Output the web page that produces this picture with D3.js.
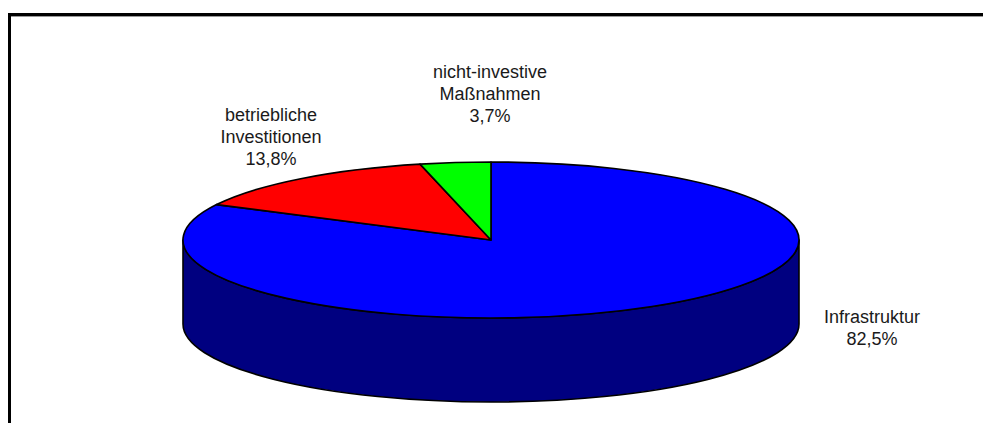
<!DOCTYPE html>
<html>
<head>
<meta charset="utf-8">
<script src="https://cdn.jsdelivr.net/npm/d3@7"></script>
<style>
  html, body { margin: 0; padding: 0; background: #fff; overflow: hidden; }
  svg { display: block; }
  text { font-family: "Liberation Sans", Arial, sans-serif; font-size: 18px; fill: #1a1a1a; }
</style>
</head>
<body>
<svg id="chart" width="983" height="423"></svg>
<script>
// data
const categories = ["Infrastruktur", "betriebliche Investitionen", "nicht-investive Maßnahmen"];
const labelLines = [["Infrastruktur"], ["betriebliche", "Investitionen"], ["nicht-investive", "Maßnahmen"]];
const shares = [82.5, 13.8, 3.7];

// look
const topColors = ["#0000ff", "#ff0000", "#00ff00"];
const sideColors = ["#000080", "#800000", "#008000"];
// label anchor (centre x, first baseline y), same order as categories
const labelAnchors = [[872, 323], [271, 121], [490, 78]];
const lineHeight = 22;

const width = 983, height = 423;
const cx = 491, cy = 240, rx = 308, ry = 78, depth = 84;

const svg = d3.select("#chart");

// chart area frame: only top and left edges are inside the window
svg.append("path")
  .attr("d", `M9.5,${height}V14.5H${width}`)
  .attr("fill", "none")
  .attr("stroke", "#000")
  .attr("stroke-width", 3);
svg.append("line")
  .attr("x1", 11).attr("x2", width)
  .attr("y1", 16.5).attr("y2", 16.5)
  .attr("stroke", "#999").attr("stroke-width", 1);

const pie = d3.pie().sort(null).value(d => d);
const arcs = pie(shares);

const px = a => cx + rx * Math.sin(a);
const py = (a, dy = 0) => cy - ry * Math.cos(a) + dy;

function topPath(d) {
  const large = d.endAngle - d.startAngle > Math.PI ? 1 : 0;
  return `M${cx},${cy}L${px(d.startAngle)},${py(d.startAngle)}` +
    `A${rx},${ry} 0 ${large} 1 ${px(d.endAngle)},${py(d.endAngle)}Z`;
}

// side wall: only the part of each slice in the front half (pi/2 .. 3pi/2)
function sidePath(d) {
  const a0 = Math.max(d.startAngle, Math.PI / 2);
  const a1 = Math.min(d.endAngle, Math.PI * 1.5);
  if (a1 <= a0) return null;
  const large = a1 - a0 > Math.PI ? 1 : 0;
  return `M${px(a0)},${py(a0)}` +
    `A${rx},${ry} 0 ${large} 1 ${px(a1)},${py(a1)}` +
    `L${px(a1)},${py(a1, depth)}` +
    `A${rx},${ry} 0 ${large} 0 ${px(a0)},${py(a0, depth)}Z`;
}

const g = svg.append("g");

g.selectAll("path.side")
  .data(arcs.filter(d => sidePath(d)))
  .join("path")
  .attr("class", "side")
  .attr("d", sidePath)
  .attr("fill", d => sideColors[d.index])
  .attr("stroke", "#000")
  .attr("stroke-width", 1.6)
  .attr("stroke-linejoin", "round");

g.selectAll("path.top")
  .data(arcs)
  .join("path")
  .attr("class", "top")
  .attr("d", topPath)
  .attr("fill", d => topColors[d.index])
  .attr("stroke", "#000")
  .attr("stroke-width", 1.6)
  .attr("stroke-linejoin", "round");

const fmt = v => d3.format(".1f")(v).replace(".", ",") + "%";

const labels = svg.append("g").selectAll("text")
  .data(arcs)
  .join("text")
  .attr("text-anchor", "middle")
  .attr("x", d => labelAnchors[d.index][0])
  .attr("y", d => labelAnchors[d.index][1]);

labels.each(function (d) {
  const t = d3.select(this);
  const lines = labelLines[d.index].concat([fmt(shares[d.index])]);
  lines.forEach((s, i) => {
    t.append("tspan")
      .attr("x", labelAnchors[d.index][0])
      .attr("dy", i === 0 ? 0 : lineHeight)
      .text(s);
  });
});
</script>
</body>
</html>
